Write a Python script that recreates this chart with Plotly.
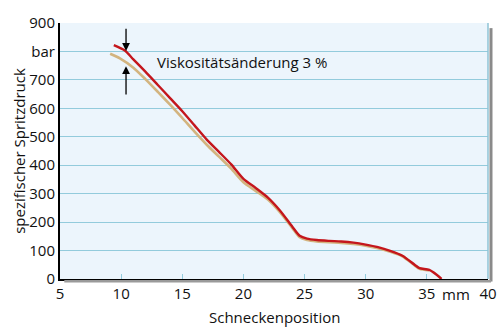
import plotly.graph_objects as go

# Schneckenposition (mm) and spezifischer Spritzdruck (bar)
pos_ref = [9.4, 10.3, 11, 12, 13, 14, 15, 16, 17, 18, 19, 20, 21, 22, 23, 24,
           24.6, 25.2, 26, 27, 28, 29, 30, 31, 32, 33, 34, 34.4, 35.2, 35.8, 36.2]
druck_ref = [822, 803, 772, 728, 682, 636, 590, 540, 490, 447, 403, 352, 320, 286,
             240, 184, 152, 142, 137, 134, 132, 128, 121, 112, 99, 82, 50, 38, 32, 15, 0]

pos_visk = [9.1, 9.9, 11, 12, 13, 14, 15, 16, 17, 18, 19, 20, 21, 22, 23, 24,
            24.6, 25.2, 26, 27, 28, 29, 30, 31, 32, 33, 34, 34.4, 35.2]
druck_visk = [792, 776, 743, 702, 658, 613, 566, 518, 472, 430, 388, 340, 310, 279,
              234, 179, 147, 137, 132, 129, 127, 123, 117, 108, 96, 80, 48, 36, 30]

x_ticks = [5, 10, 15, 20, 25, 30, 35, 40]
y_ticks = [0, 100, 200, 300, 400, 500, 600, 700, 800, 900]
y_labels = ["0", "100", "200", "300", "400", "500", "600", "700", "bar", "900"]

x_title = "Schneckenposition"
y_title = "spezifischer Spritzdruck"
annot_text = "Viskositätsänderung 3 %"
arrow_x = 10.4
arrow_down = (885, 802)
arrow_up = (643, 748)

FONT = "Open Sans"
FS = 15
BG = "#ecf5fc"
GRID = "#93cbdc"

fig = go.Figure()
fig.add_trace(go.Scatter(x=pos_visk, y=druck_visk, mode="lines",
                         line=dict(color="#d3b47f", width=2.6, shape="spline", smoothing=0.7),
                         hoverinfo="skip"))
fig.add_trace(go.Scatter(x=pos_ref, y=druck_ref, mode="lines",
                         line=dict(color="#c4161c", width=2.4, shape="spline", smoothing=0.7),
                         hoverinfo="skip"))

# arrows marking the viscosity change
fig.add_annotation(x=arrow_x, y=arrow_down[1], ax=arrow_x, ay=arrow_down[0],
                   xref="x", yref="y", axref="x", ayref="y", text="",
                   showarrow=True, arrowhead=2, arrowsize=1.2, arrowwidth=1.3,
                   arrowcolor="black", standoff=0)
fig.add_annotation(x=arrow_x, y=arrow_up[1], ax=arrow_x, ay=arrow_up[0],
                   xref="x", yref="y", axref="x", ayref="y", text="",
                   showarrow=True, arrowhead=2, arrowsize=1.2, arrowwidth=1.3,
                   arrowcolor="black", standoff=0)

# label box that interrupts the 800 gridline
fig.add_shape(type="rect", xref="x", yref="y", x0=12.6, x1=27.2, y0=790, y1=810,
              fillcolor=BG, line=dict(width=0), layer="below")
fig.add_annotation(x=12.8, y=763, xref="x", yref="y", text=annot_text,
                   showarrow=False, xanchor="left", yanchor="middle",
                   font=dict(family=FONT, size=FS, color="#111"))

# unit label on the x axis
fig.add_annotation(x=37.4, y=0, xref="x", yref="y", yshift=-15, text="mm",
                   showarrow=False, xanchor="center", yanchor="middle",
                   font=dict(family=FONT, size=FS, color="#111"))

# x axis title
fig.add_annotation(x=0.5, y=0, xref="paper", yref="paper", yshift=-38, text=x_title,
                   showarrow=False, xanchor="center", yanchor="middle",
                   font=dict(family=FONT, size=FS, color="#111"))

# frame shadow and right border
fig.add_shape(type="line", xref="paper", yref="paper", x0=1.007, x1=1.007, y0=-0.01, y1=0.98,
              line=dict(color="#8a8a8a", width=3))
fig.add_shape(type="line", xref="paper", yref="paper", x0=0.01, x1=1.007, y0=-0.009, y1=-0.009,
              line=dict(color="#9a9a9a", width=2.5))
fig.add_shape(type="line", xref="paper", yref="paper", x0=1.0, x1=1.0, y0=0, y1=1,
              line=dict(color="#8fc3d6", width=1.5))

fig.update_layout(
    width=500, height=330,
    margin=dict(l=60, r=12, t=12, b=51),
    paper_bgcolor="white", plot_bgcolor=BG,
    showlegend=False,
    font=dict(family=FONT, size=FS, color="#111"),
    xaxis=dict(range=[5, 40], tickvals=x_ticks, showgrid=False, zeroline=False,
               showline=True, linecolor="black", linewidth=2,
               ticks="inside", ticklen=5, tickcolor=GRID, tickwidth=1,
               tickfont=dict(family=FONT, size=FS), automargin=False),
    yaxis=dict(range=[0, 900], tickvals=y_ticks, ticktext=y_labels,
               showgrid=True, gridcolor=GRID, gridwidth=1.2, zeroline=False,
               showline=True, linecolor="black", linewidth=2, ticks="",
               tickfont=dict(family=FONT, size=FS),
               title=dict(text=y_title, standoff=0,
                          font=dict(family=FONT, size=FS))),
)

fig.write_html("out.html")
